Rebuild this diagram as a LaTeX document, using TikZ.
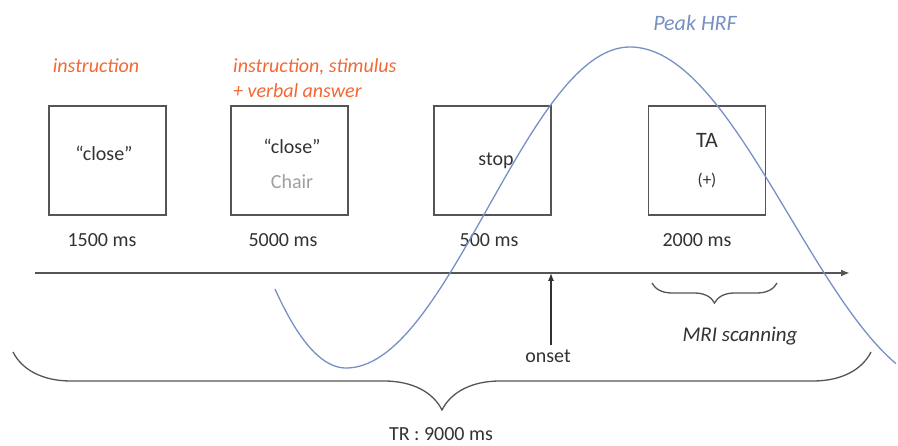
\documentclass[tikz,border=0pt]{standalone}
\usepackage{fontspec}
\setmainfont{Carlito}
\usetikzlibrary{arrows.meta,decorations.pathreplacing}
\definecolor{orng}{RGB}{242,104,52}
\definecolor{hrf}{RGB}{118,144,196}
\definecolor{ink}{RGB}{50,50,50}
\definecolor{frame}{RGB}{85,85,85}
\tikzset{
  trial/.style={draw=frame,line width=1.6pt,minimum width=117pt,minimum height=109pt,inner sep=0pt},
  lbl/.style={font=\fontsize{20}{24}\selectfont,text=ink,inner sep=0pt},
  cond/.style={font=\fontsize{20}{24}\selectfont\itshape,text=orng,inner sep=0pt},
  dur/.style={lbl},
  brc/.style={draw=frame,line width=1.3pt,decorate},
  hrfline/.style={hrf,line width=1.3pt},
}
\begin{document}
\begin{tikzpicture}[x=1pt,y=-1pt]
\useasboundingbox (0,0) rectangle (898,446);
% boxes
\node[trial] (b1) at (107.5,160.5) {};
\node[trial] (b2) at (289.5,160.5) {};
\node[trial] (b3) at (492.5,160.5) {};
\node[trial] (b4) at (707,160.5) {};
% box texts
\node[lbl] (t1) at (104,153) {“close”};
\node[lbl] (t2) at (292,146) {“close”};
\node[lbl,text=gray!75] (t2b) at (292,182) {Chair};
\node[lbl] (t3) at (496,161) {stop};
\node[lbl,font=\fontsize{22}{26}\selectfont] (t4) at (707,140) {TA};
\node[lbl,font=\fontsize{17}{20}\selectfont] (t4b) at (707,180) {(+)};
% conditions
\node[cond] (c1) at (96,66) {instruction};
\node[cond,anchor=west] (c2) at (233,67) {instruction, stimulus};
\node[cond,anchor=west] (c2b) at (233,91) {+ verbal answer};
% durations
\node[dur] (d1) at (102,240) {1500 ms};
\node[dur] (d2) at (283,240) {5000 ms};
\node[dur] (d3) at (489,240) {500 ms};
\node[dur] (d4) at (697,240) {2000 ms};
% timeline
\coordinate (ax0) at (35,273);
\coordinate (ax1) at (850,273);
\draw[frame,line width=1.8pt,-{Latex[length=9pt,width=7pt]}] (ax0) -- (ax1);
% onset
\node[lbl] (on) at (548,356) {onset};
\coordinate (onT) at (551,273);
\draw[ink,line width=1.2pt,-{Latex[length=8pt,width=6pt]}] (on.north -| onT) ++(0,-4) -- (onT);
% HRF curve
\draw[hrfline] plot[domain=275:346,samples=30] (\x,{368-79*((346-\x)/71)^2});
\draw[hrfline] plot[domain=346:630,samples=80] (\x,{207.5+160.5*cos(0.6338*(\x-346))});
\draw[hrfline] plot[domain=630:896,samples=80] (\x,{47+170*(1-cos(0.5625*(\x-630)))});
\node[font=\fontsize{22}{26}\selectfont\itshape,text=hrf,inner sep=0pt] (pk) at (695,23) {Peak HRF};
% MRI brace
\coordinate (m0) at (652,283);
\coordinate (m1) at (777,283);
\draw[brc,decoration={brace,mirror,amplitude=20pt}] (m0) -- (m1);
\node[font=\fontsize{21}{25}\selectfont\itshape,text=ink,inner sep=0pt] (mri) at (740,336) {MRI scanning};
% TR brace
\coordinate (r0) at (13,352);
\coordinate (r1) at (871,352);
\draw[brc,decoration={brace,mirror,amplitude=58pt}] (r0) -- (r1);
\node[lbl] (tr) at (441,434) {TR : 9000 ms};
\end{tikzpicture}
\end{document}
